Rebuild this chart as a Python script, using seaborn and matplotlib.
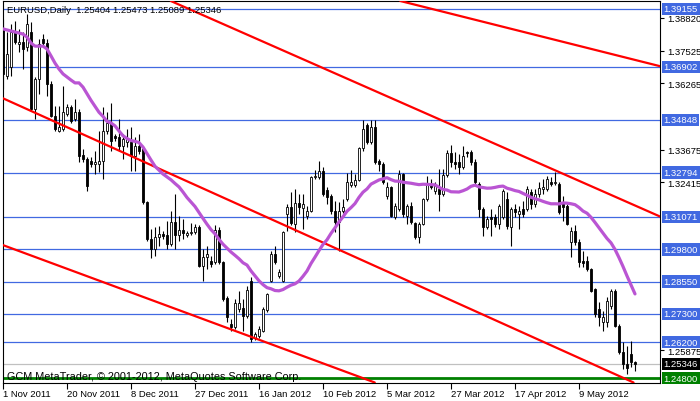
import numpy as np
import pandas as pd
import matplotlib
matplotlib.use('Agg')
import matplotlib.pyplot as plt
import seaborn as sns

# daily EURUSD bars, 1 Nov 2011 .. 23 May 2012
opens = [1.3838, 1.3655, 1.3690, 1.3826, 1.3779, 1.3787, 1.3767, 1.3826, 1.3526, 1.3643,
         1.3799, 1.3783, 1.3624, 1.3499, 1.3441, 1.3448, 1.3507, 1.3534, 1.3487, 1.3514,
         1.3347, 1.3332, 1.3324, 1.3312, 1.3312, 1.3324, 1.3441, 1.3472, 1.3421, 1.3417,
         1.3382, 1.3398, 1.3398, 1.3343, 1.3382, 1.3370, 1.3165, 1.3021, 1.2982, 1.3028,
         1.3040, 1.3036, 1.3001, 1.3087, 1.3036, 1.3056, 1.3036, 1.3044, 1.3048, 1.3067,
         1.2915, 1.2950, 1.2935, 1.2931, 1.3056, 1.2931, 1.2791, 1.2690, 1.2678, 1.2748,
         1.2752, 1.2721, 1.2857, 1.2635, 1.2643, 1.2663, 1.2744, 1.2857, 1.2962, 1.2877,
         1.2857, 1.3118, 1.3145, 1.3079, 1.3161, 1.3141, 1.3110, 1.3129, 1.3262, 1.3262,
         1.3285, 1.3211, 1.3188, 1.3129, 1.3087, 1.3129, 1.3176, 1.3231, 1.3231, 1.3250,
         1.3374, 1.3464, 1.3398, 1.3456, 1.3324, 1.3312, 1.3188, 1.3223, 1.3106, 1.3137,
         1.3273, 1.3110, 1.3149, 1.3083, 1.3028, 1.3079, 1.3176, 1.3234, 1.3207, 1.3215,
         1.3196, 1.3269, 1.3355, 1.3320, 1.3320, 1.3301, 1.3359, 1.3359, 1.3320, 1.3234,
         1.3137, 1.3067, 1.3106, 1.3106, 1.3079, 1.3106, 1.3176, 1.3067, 1.3137, 1.3118,
         1.3137, 1.3137, 1.3203, 1.3157, 1.3196, 1.3215, 1.3215, 1.3242, 1.3238, 1.3234,
         1.3165, 1.3149, 1.3009, 1.3052, 1.3009, 1.2935, 1.2935, 1.2904, 1.2826, 1.2748,
         1.2698, 1.2698, 1.2760, 1.2818, 1.2682, 1.2581, 1.2535, 1.2573, 1.25404]
highs = [1.3877, 1.3826, 1.3857, 1.3869, 1.3838, 1.3826, 1.3896, 1.3865, 1.3651, 1.3799,
         1.3818, 1.3799, 1.3635, 1.3538, 1.3538, 1.3616, 1.3546, 1.3542, 1.3565, 1.3526,
         1.3370, 1.3339, 1.3339, 1.3363, 1.3441, 1.3534, 1.3514, 1.3550, 1.3429, 1.3487,
         1.3429, 1.3448, 1.3456, 1.3417, 1.3429, 1.3378, 1.3168, 1.3059, 1.3067, 1.3071,
         1.3052, 1.3091, 1.3129, 1.3196, 1.3110, 1.3098, 1.3052, 1.3083, 1.3079, 1.3075,
         1.2982, 1.2993, 1.2954, 1.3075, 1.3067, 1.2935, 1.2799, 1.2709, 1.2787, 1.2818,
         1.2787, 1.2838, 1.2873, 1.2659, 1.2682, 1.2756, 1.2810, 1.2974, 1.2993, 1.2904,
         1.3052, 1.3157, 1.3203, 1.3215, 1.3196, 1.3196, 1.3149, 1.3265, 1.3289, 1.3324,
         1.3301, 1.3223, 1.3196, 1.3168, 1.3165, 1.3176, 1.3277, 1.3289, 1.3273, 1.3378,
         1.3483, 1.3472, 1.3483, 1.3483, 1.3332, 1.3320, 1.3242, 1.3227, 1.3161, 1.3289,
         1.3277, 1.3157, 1.3165, 1.3087, 1.3087, 1.3180, 1.3265, 1.3254, 1.3242, 1.3293,
         1.3293, 1.3367, 1.3386, 1.3359, 1.3351, 1.3382, 1.3363, 1.3367, 1.3332, 1.3242,
         1.3145, 1.3110, 1.3137, 1.3118, 1.3157, 1.3215, 1.3203, 1.3145, 1.3157, 1.3149,
         1.3168, 1.3227, 1.3215, 1.3215, 1.3242, 1.3254, 1.3265, 1.3262, 1.3281, 1.3242,
         1.3188, 1.3157, 1.3067, 1.3075, 1.3021, 1.2974, 1.2954, 1.2908, 1.2830, 1.2775,
         1.2740, 1.2795, 1.2826, 1.2826, 1.2690, 1.2620, 1.2604, 1.2624, 1.25473]
lows = [1.3604, 1.3643, 1.3655, 1.3779, 1.3748, 1.3682, 1.3752, 1.3518, 1.3487, 1.3585,
        1.3775, 1.3577, 1.3495, 1.3441, 1.3437, 1.3441, 1.3499, 1.3472, 1.3479, 1.3320,
        1.3320, 1.3207, 1.3301, 1.3273, 1.3281, 1.3254, 1.3429, 1.3363, 1.3402, 1.3363,
        1.3332, 1.3378, 1.3285, 1.3285, 1.3351, 1.3157, 1.3013, 1.2946, 1.2954, 1.2993,
        1.3021, 1.2982, 1.2993, 1.2982, 1.3013, 1.3021, 1.3028, 1.3036, 1.3040, 1.2912,
        1.2857, 1.2904, 1.2912, 1.2923, 1.2923, 1.2779, 1.2698, 1.2663, 1.2671, 1.2736,
        1.2663, 1.2713, 1.2620, 1.2628, 1.2635, 1.2659, 1.2736, 1.2853, 1.2923, 1.2869,
        1.2853, 1.3052, 1.3075, 1.3048, 1.3118, 1.3059, 1.3098, 1.3126, 1.3254, 1.3254,
        1.3188, 1.3157, 1.3118, 1.3048, 1.2974, 1.3122, 1.3168, 1.3223, 1.3223, 1.3246,
        1.3363, 1.3390, 1.3390, 1.3312, 1.3285, 1.3234, 1.3176, 1.3106, 1.3098, 1.3129,
        1.3106, 1.3079, 1.3079, 1.3021, 1.3005, 1.3075, 1.3168, 1.3215, 1.3196, 1.3129,
        1.3188, 1.3262, 1.3301, 1.3293, 1.3273, 1.3293, 1.3339, 1.3308, 1.3231, 1.3106,
        1.3032, 1.3059, 1.3032, 1.3067, 1.3059, 1.3098, 1.3059, 1.2993, 1.3106, 1.3059,
        1.3106, 1.3129, 1.3137, 1.3145, 1.3184, 1.3196, 1.3207, 1.3227, 1.3231, 1.3118,
        1.3091, 1.3075, 1.2950, 1.2997, 1.2912, 1.2912, 1.2896, 1.2814, 1.2717, 1.2682,
        1.2663, 1.2678, 1.2748, 1.2678, 1.2573, 1.2515, 1.2496, 1.2523, 1.25089]
closes = [1.3663, 1.3740, 1.3826, 1.3787, 1.3787, 1.3760, 1.3857, 1.3526, 1.3643, 1.3779,
          1.3783, 1.3624, 1.3499, 1.3448, 1.3456, 1.3514, 1.3534, 1.3479, 1.3514, 1.3343,
          1.3332, 1.3227, 1.3312, 1.3320, 1.3324, 1.3441, 1.3472, 1.3402, 1.3413, 1.3382,
          1.3409, 1.3413, 1.3343, 1.3382, 1.3363, 1.3165, 1.3021, 1.2982, 1.3028, 1.3040,
          1.3032, 1.3001, 1.3087, 1.3036, 1.3056, 1.3044, 1.3044, 1.3048, 1.3067, 1.2915,
          1.2950, 1.2962, 1.2923, 1.3056, 1.2931, 1.2787, 1.2717, 1.2678, 1.2772, 1.2772,
          1.2721, 1.2822, 1.2632, 1.2651, 1.2671, 1.2748, 1.2807, 1.2962, 1.2931, 1.2892,
          1.3048, 1.3145, 1.3083, 1.3161, 1.3145, 1.3157, 1.3129, 1.3262, 1.3265, 1.3285,
          1.3196, 1.3184, 1.3129, 1.3087, 1.3129, 1.3145, 1.3242, 1.3242, 1.3250, 1.3374,
          1.3448, 1.3398, 1.3456, 1.3320, 1.3312, 1.3242, 1.3223, 1.3110, 1.3149, 1.3273,
          1.3118, 1.3149, 1.3087, 1.3028, 1.3079, 1.3176, 1.3234, 1.3223, 1.3227, 1.3196,
          1.3269, 1.3355, 1.3320, 1.3312, 1.3301, 1.3343, 1.3355, 1.3320, 1.3242, 1.3137,
          1.3067, 1.3098, 1.3098, 1.3079, 1.3149, 1.3207, 1.3071, 1.3137, 1.3126, 1.3129,
          1.3118, 1.3215, 1.3157, 1.3196, 1.3219, 1.3223, 1.3254, 1.3234, 1.3242, 1.3126,
          1.3145, 1.3079, 1.3052, 1.3009, 1.2931, 1.2927, 1.2904, 1.2818, 1.2729, 1.2717,
          1.2717, 1.2779, 1.2818, 1.2682, 1.2581, 1.2535, 1.2519, 1.2542, 1.25346]

# moving average for the first bars (needs history before the visible window)
ma_head = [1.3838, 1.3834, 1.3830, 1.3826, 1.3822, 1.3818, 1.3806, 1.3783, 1.3771, 1.3771,
           1.3771, 1.3760, 1.3733, 1.3705, 1.3682, 1.3663, 1.3651, 1.3639, 1.3628]
ma_window = 20

date_ticks = [0, 16, 32, 48, 64, 80, 96, 112, 128, 144]
date_labels = ['1 Nov 2011', '20 Nov 2011', '8 Dec 2011', '27 Dec 2011', '16 Jan 2012',
               '10 Feb 2012', '5 Mar 2012', '27 Mar 2012', '17 Apr 2012', '9 May 2012']
price_ticks = [1.38820, 1.37525, 1.36265, 1.33675, 1.32415, 1.25875]

level_lines = [1.39155, 1.36902, 1.34848, 1.32794, 1.31071, 1.29800, 1.28550, 1.27300, 1.26200]
last_price = 1.25346
support = 1.24800

# trend lines as (bar, price) anchor pairs
trend_lines = [((100, 1.3944), (164, 1.3694)),
               ((40, 1.3960), (164, 1.3110)),
               ((0, 1.3568), (160, 1.2446)),
               ((0, 1.2997), (100, 1.2422))]

header = 'EURUSD,Daily  1.25404 1.25473 1.25089 1.25346'
footer = 'GCM MetaTrader, \u00a9 2001-2012, MetaQuotes Software Corp.'

sns.set_style('white')
plt.rcParams['font.family'] = ['Liberation Sans', 'DejaVu Sans']

df = pd.DataFrame({'bar': np.arange(len(closes)), 'open': opens, 'high': highs,
                   'low': lows, 'close': closes})
df['ma'] = df['close'].rolling(ma_window).mean()
df.loc[:len(ma_head) - 1, 'ma'] = ma_head

fig = plt.figure(figsize=(7, 4.02), dpi=100)
ax = fig.add_axes([2.5 / 700, 18.5 / 402, 657.5 / 700, 381.5 / 402])

for lv in level_lines:
    ax.axhline(lv, color='#4169E1', lw=0.9, zorder=1)
ax.axhline(last_price, color='#C0C0C0', lw=0.9, zorder=1)
ax.axhline(support, color='#008000', lw=2, zorder=1)

# candles
ax.vlines(df['bar'], df['low'], df['high'], color='black', lw=0.8, zorder=2)
body_low = np.minimum(df['open'], df['close'])
body_h = np.maximum((df['close'] - df['open']).abs(), 0.00012)
faces = np.where(df['close'] >= df['open'], 'white', 'black')
ax.bar(df['bar'], body_h, bottom=body_low, width=0.7, color=faces,
       edgecolor='black', linewidth=0.6, zorder=2.5)

for p1, p2 in trend_lines:
    ax.axline(p1, p2, color='#FF0000', lw=1.6, zorder=3)

sns.lineplot(data=df, x='bar', y='ma', color='#BA55D3', linewidth=2.3, ax=ax,
             legend=False, zorder=4)

ax.set_xlim(-0.125, 164.25)
ax.set_ylim(1.24626, 1.39466)
ax.set_xlabel('')
ax.set_ylabel('')

for s in ax.spines.values():
    s.set_visible(True)
    s.set_color('black')
    s.set_linewidth(0.8)

ax.set_xticks(date_ticks)
ax.set_xticklabels(date_labels, ha='left')
ax.yaxis.tick_right()
ax.set_yticks(price_ticks)
ax.set_yticklabels([f'{p:.5f}' for p in price_ticks])
ax.tick_params(axis='x', bottom=True, direction='out', length=4, width=0.8,
               pad=1, labelsize=6.8, colors='black')
ax.tick_params(axis='y', right=True, left=False, labelright=True, labelleft=False,
               direction='out', length=3, width=0.8, pad=2, labelsize=6.8, colors='black')

# price labels on the right
ytrans = ax.get_yaxis_transform()
boxed = [(lv, '#4169E1') for lv in level_lines] + [(last_price, 'black'), (support, '#008000')]
for lv, col in boxed:
    ax.annotate(f'{lv:.5f}', xy=(1, lv), xycoords=ytrans, xytext=(2.6, 0),
                textcoords='offset points', ha='left', va='center', fontsize=6.8,
                color='white', zorder=6,
                bbox=dict(boxstyle='square,pad=0.18', fc=col, ec='none'))

ax.text(0.0068, 0.979, header, transform=ax.transAxes, ha='left', va='center',
        fontsize=6.8, color='black', zorder=6)
ax.text(0.0068, 0.017, footer, transform=ax.transAxes, ha='left', va='center',
        fontsize=7.8, color='black', zorder=6)

fig.savefig('out.png', dpi=100, facecolor='white')
